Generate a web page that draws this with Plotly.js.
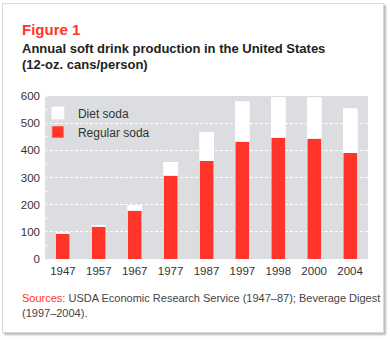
<!DOCTYPE html>
<html>
<head>
<meta charset="utf-8">
<script src="https://cdn.plot.ly/plotly-3.0.1.min.js"></script>
<style>
  html, body { margin: 0; padding: 0; background: #ffffff; }
  #card { position: absolute; left: 2px; top: 3px; width: 380px; height: 328px;
          border: 1px solid #dadada; background: #ffffff;
          box-shadow: 2px 2px 2px rgba(0,0,0,0.28); }
  #chart { position: absolute; left: 0; top: 0; width: 390px; height: 340px; }
</style>
</head>
<body>
<div id="card"></div>
<div id="chart"></div>
<script>
const years = ['1947', '1957', '1967', '1977', '1987', '1997', '1998', '2000', '2004'];
const regularSoda = [95, 121, 179, 308, 362, 434, 448, 445, 391];
const dietSoda = [2, 3, 17, 49, 105, 145, 147, 148, 162];
const yTicks = [0, 100, 200, 300, 400, 500, 600];

const FONT = '"Liberation Sans", Arial, sans-serif';
const RED = '#ff3529';

const traces = [
  {
    type: 'bar', name: 'Regular soda', x: years, y: regularSoda,
    marker: { color: RED, line: { color: 'rgba(255,200,195,0.8)', width: 0.8 } },
    hoverinfo: 'skip'
  },
  {
    type: 'bar', name: 'Diet soda', x: years, y: dietSoda,
    marker: { color: '#ffffff', line: { color: 'rgba(255,255,255,1)', width: 0.8 } },
    hoverinfo: 'skip'
  }
];

const layout = {
  width: 390, height: 340,
  margin: { l: 45, r: 22, t: 96, b: 81 },
  paper_bgcolor: 'rgba(0,0,0,0)',
  plot_bgcolor: '#dcdde0',
  barmode: 'stack',
  bargap: 0.61,
  showlegend: true,
  font: { family: FONT, size: 11, color: '#333333' },
  legend: {
    x: -0.022, y: 0.985, xanchor: 'left', yanchor: 'top',
    traceorder: 'reversed', bgcolor: 'rgba(0,0,0,0)',
    font: { family: FONT, size: 12, color: '#333333' },
    itemwidth: 30, tracegroupgap: 0
  },
  xaxis: {
    type: 'category', showgrid: false, zeroline: false, showline: false,
    ticks: '', ticklabelstandoff: 3, tickfont: { family: FONT, size: 11.5, color: '#333333' },
    fixedrange: true
  },
  yaxis: {
    range: [0, 600], tickvals: yTicks, showgrid: true,
    gridcolor: '#ffffff', gridwidth: 1, griddash: '3px,2px',
    zeroline: false, showline: false, ticks: '', ticklabelstandoff: 4,
    tickfont: { family: FONT, size: 11.5, color: '#333333' },
    minor: { dtick: 50, tick0: 0, ticks: 'inside', ticklen: 3, tickcolor: '#f4f4f4', tickwidth: 1, showgrid: false },
    fixedrange: true
  },
  annotations: [
    { text: '<b>Figure 1</b>', xref: 'paper', yref: 'paper', x: -0.0775, y: 1.411,
      xanchor: 'left', yanchor: 'middle', showarrow: false,
      font: { family: FONT, size: 15, color: RED } },
    { text: '<b>Annual soft drink production in the United States</b>', xref: 'paper', yref: 'paper',
      x: -0.0775, y: 1.294, xanchor: 'left', yanchor: 'middle', showarrow: false,
      font: { family: FONT, size: 13, color: '#222222' } },
    { text: '<b>(12-oz. cans/person)</b>', xref: 'paper', yref: 'paper',
      x: -0.0775, y: 1.196, xanchor: 'left', yanchor: 'middle', showarrow: false,
      font: { family: FONT, size: 13, color: '#222222' } },
    { text: '<span style="color:' + RED + '">Sources:</span> USDA Economic Research Service (1947–87); Beverage Digest',
      xref: 'paper', yref: 'paper', x: -0.0775, y: -0.239, xanchor: 'left', yanchor: 'middle',
      showarrow: false, font: { family: FONT, size: 11, color: '#444444' } },
    { text: '(1997–2004).', xref: 'paper', yref: 'paper', x: -0.0775, y: -0.331,
      xanchor: 'left', yanchor: 'middle', showarrow: false,
      font: { family: FONT, size: 11, color: '#444444' } }
  ]
};

Plotly.newPlot('chart', traces, layout, { staticPlot: true, displayModeBar: false });
</script>
</body>
</html>
